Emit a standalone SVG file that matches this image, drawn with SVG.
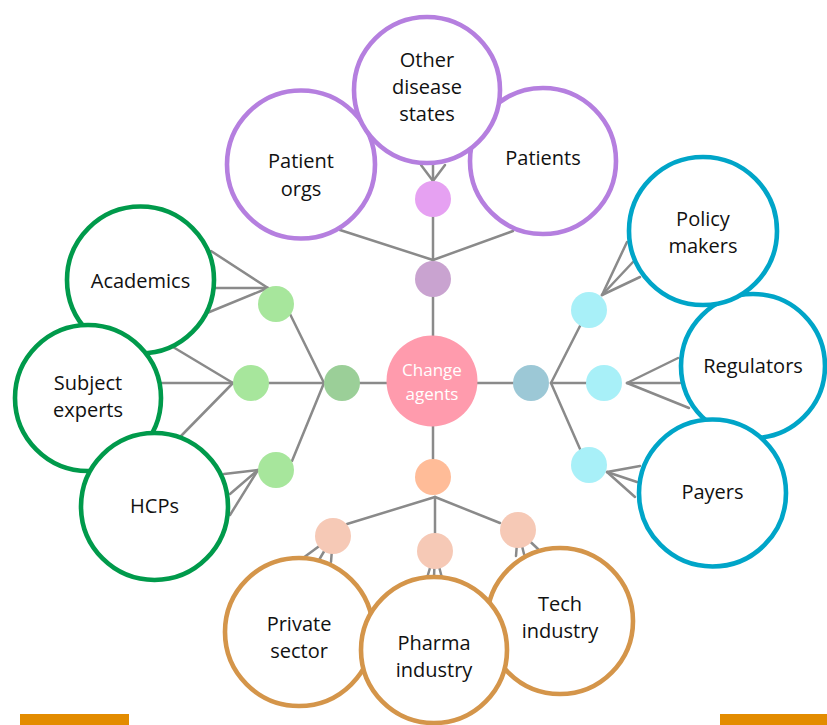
<svg xmlns="http://www.w3.org/2000/svg" width="827" height="725" viewBox="0 0 827 725">
<style>
.ln{stroke:#8a8a8a;stroke-width:2.5;fill:none;stroke-linecap:round}
.big{fill:#fff;stroke-width:4.6}
.pu{stroke:#B57FDF}.gr{stroke:#009A4B}.bl{stroke:#00A5C8}.or{stroke:#D4954A}
.t{font-family:"Open Sans","Noto Sans",sans-serif;font-size:20px;fill:#111;text-anchor:middle}
.tc{font-family:"Open Sans","Noto Sans",sans-serif;font-size:17px;fill:#fff;text-anchor:middle}
</style>
<rect width="827" height="725" fill="#fff"/>
<g id="connectors">
<line class="ln" x1="433" y1="279" x2="433" y2="477"/>
<line class="ln" x1="342" y1="383" x2="531" y2="383"/>
<line class="ln" x1="433" y1="260" x2="340" y2="230"/>
<line class="ln" x1="433" y1="260" x2="513" y2="231"/>
<line class="ln" x1="433" y1="260" x2="433" y2="199"/>
<line class="ln" x1="433" y1="181" x2="433" y2="165"/>
<line class="ln" x1="433" y1="181" x2="421" y2="165"/>
<line class="ln" x1="433" y1="181" x2="445" y2="165"/>
<line class="ln" x1="324" y1="383" x2="290" y2="314"/>
<line class="ln" x1="324" y1="383" x2="292" y2="461"/>
<line class="ln" x1="324" y1="383" x2="251" y2="383"/>
<line class="ln" x1="268" y1="288" x2="211" y2="251"/>
<line class="ln" x1="268" y1="288" x2="215" y2="288"/>
<line class="ln" x1="268" y1="288" x2="207" y2="313"/>
<line class="ln" x1="233" y1="383" x2="173" y2="347"/>
<line class="ln" x1="233" y1="383" x2="162" y2="383"/>
<line class="ln" x1="233" y1="383" x2="180" y2="437"/>
<line class="ln" x1="258" y1="470" x2="224" y2="474"/>
<line class="ln" x1="258" y1="470" x2="230" y2="494"/>
<line class="ln" x1="258" y1="470" x2="230" y2="515"/>
<line class="ln" x1="551" y1="383" x2="580" y2="326"/>
<line class="ln" x1="551" y1="383" x2="580" y2="449"/>
<line class="ln" x1="551" y1="383" x2="604" y2="383"/>
<line class="ln" x1="602" y1="295" x2="627" y2="242"/>
<line class="ln" x1="602" y1="295" x2="633" y2="262"/>
<line class="ln" x1="602" y1="295" x2="640" y2="277"/>
<line class="ln" x1="627" y1="383" x2="678" y2="358"/>
<line class="ln" x1="627" y1="383" x2="680" y2="383"/>
<line class="ln" x1="627" y1="383" x2="689" y2="408"/>
<line class="ln" x1="607" y1="472" x2="640" y2="466"/>
<line class="ln" x1="607" y1="472" x2="637" y2="482"/>
<line class="ln" x1="607" y1="472" x2="635" y2="497"/>
<line class="ln" x1="435" y1="497" x2="347" y2="524"/>
<line class="ln" x1="435" y1="497" x2="435" y2="551"/>
<line class="ln" x1="435" y1="497" x2="500" y2="523"/>
<line class="ln" x1="333" y1="536" x2="303" y2="558"/>
<line class="ln" x1="333" y1="536" x2="319" y2="560"/>
<line class="ln" x1="333" y1="536" x2="331" y2="562"/>
<line class="ln" x1="435" y1="551" x2="427" y2="578"/>
<line class="ln" x1="435" y1="551" x2="434" y2="577"/>
<line class="ln" x1="435" y1="551" x2="442" y2="578"/>
<line class="ln" x1="518" y1="530" x2="516" y2="556"/>
<line class="ln" x1="518" y1="530" x2="524" y2="554"/>
<line class="ln" x1="518" y1="530" x2="538" y2="549"/>
</g>
<g id="hubs">
<circle cx="433" cy="279" r="18" fill="#C9A3D0"/>
<circle cx="433" cy="199" r="18" fill="#E6A1F2"/>
<circle cx="342" cy="383" r="18" fill="#9BCF98"/>
<circle cx="276" cy="304" r="18" fill="#A7E69C"/>
<circle cx="251" cy="383" r="18" fill="#A7E69C"/>
<circle cx="276" cy="470" r="18" fill="#A7E69C"/>
<circle cx="531" cy="383" r="18" fill="#9CC8D6"/>
<circle cx="589" cy="310" r="18" fill="#A8F0F8"/>
<circle cx="604" cy="383" r="18" fill="#A8F0F8"/>
<circle cx="589" cy="465" r="18" fill="#A8F0F8"/>
<circle cx="433" cy="477" r="18" fill="#FFBC98"/>
<circle cx="333" cy="536" r="18" fill="#F6C9B6"/>
<circle cx="435" cy="551" r="18" fill="#F6C9B6"/>
<circle cx="518" cy="530" r="18" fill="#F6C9B6"/>
</g>
<g id="change-agents">
<circle cx="432" cy="381" r="45.5" fill="#FF9BAD"/>
<text class="tc" x="432" y="376">Change</text>
<text class="tc" x="432" y="400">agents</text>
</g>
<g id="patient-orgs">
<circle class="big pu" cx="301" cy="164.5" r="74"/>
<text class="t" x="301" y="168">Patient</text>
<text class="t" x="301" y="196">orgs</text>
</g>
<g id="patients">
<circle class="big pu" cx="543" cy="161" r="73"/>
<text class="t" x="543" y="165">Patients</text>
</g>
<g id="other-disease-states">
<circle class="big pu" cx="427" cy="90" r="73"/>
<text class="t" x="427" y="67">Other</text>
<text class="t" x="427" y="94">disease</text>
<text class="t" x="427" y="121">states</text>
</g>
<g id="academics">
<circle class="big gr" cx="140.5" cy="280" r="73.5"/>
<text class="t" x="140.5" y="288">Academics</text>
</g>
<g id="subject-experts">
<circle class="big gr" cx="88" cy="398" r="73"/>
<text class="t" x="88" y="390">Subject</text>
<text class="t" x="88" y="417">experts</text>
</g>
<g id="hcps">
<circle class="big gr" cx="154.5" cy="506.5" r="73.5"/>
<text class="t" x="154.5" y="513">HCPs</text>
</g>
<g id="regulators">
<circle class="big bl" cx="753" cy="366" r="72"/>
<text class="t" x="753" y="373">Regulators</text>
</g>
<g id="policy-makers">
<circle class="big bl" cx="703" cy="231" r="74"/>
<text class="t" x="703" y="226">Policy</text>
<text class="t" x="703" y="253">makers</text>
</g>
<g id="payers">
<circle class="big bl" cx="712.5" cy="493" r="73.5"/>
<text class="t" x="712.5" y="499">Payers</text>
</g>
<g id="private-sector">
<circle class="big or" cx="299" cy="632" r="74"/>
<text class="t" x="299" y="631">Private</text>
<text class="t" x="299" y="658">sector</text>
</g>
<g id="tech-industry">
<circle class="big or" cx="560" cy="621" r="73"/>
<text class="t" x="560" y="611">Tech</text>
<text class="t" x="560" y="638">industry</text>
</g>
<g id="pharma-industry">
<circle class="big or" cx="434" cy="650" r="73"/>
<text class="t" x="434" y="650">Pharma</text>
<text class="t" x="434" y="677">industry</text>
</g>
<rect x="20" y="714" width="109" height="11" fill="#E38C00"/>
<rect x="720" y="714" width="107" height="11" fill="#E38C00"/>
</svg>
